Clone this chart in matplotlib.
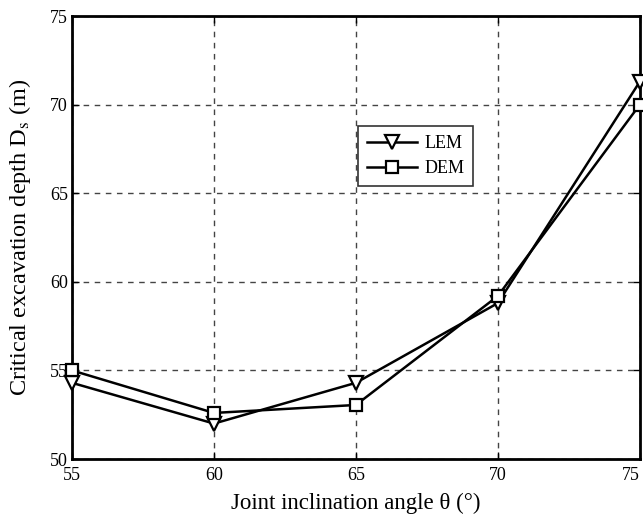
import numpy as np
import matplotlib.pyplot as plt

plt.rcParams['font.family'] = ['Liberation Serif', 'DejaVu Serif']
plt.rcParams['mathtext.fontset'] = 'stix'

# joint inclination angle (deg)
angle = [55, 60, 65, 70, 75]
# critical excavation depth Ds (m)
lem = [54.3, 52.0, 54.3, 58.8, 71.3]
dem = [55.0, 52.6, 53.05, 59.2, 70.0]

fig = plt.figure(figsize=(6.43, 5.21), dpi=100)
ax = fig.add_axes([0.112, 0.119, 0.883, 0.850])

ax.plot(angle, lem, color='black', lw=1.8, marker='v', ms=10,
        mfc='white', mec='black', mew=1.6, label='LEM', zorder=3, clip_on=False)
ax.plot(angle, dem, color='black', lw=1.8, marker='s', ms=9,
        mfc='white', mec='black', mew=1.6, label='DEM', zorder=3, clip_on=False)

ax.set_xlim(55, 75)
ax.set_ylim(50, 75)
ax.set_xticks(np.arange(55, 76, 5))
ax.set_yticks(np.arange(50, 76, 5))
ax.grid(True, color='#444444', ls=(0, (4, 4)), lw=1)
ax.tick_params(direction='in', labelsize=13, length=5, width=1,
               top=True, right=True)
ax.tick_params(axis='x', pad=6)
ax.tick_params(axis='y', pad=3)
ax.get_xticklabels()[-1].set_horizontalalignment('right')
for s in ax.spines.values():
    s.set_linewidth(2)

ax.set_xlabel('Joint inclination angle θ (°)', fontsize=16.5, labelpad=6)
ax.set_ylabel('Critical excavation depth D$_{\\rm s}$ (m)', fontsize=17.5, labelpad=12)

leg = ax.legend(loc='upper left', bbox_to_anchor=(0.503, 0.752), fontsize=13,
                frameon=True, fancybox=False, edgecolor='black',
                handlelength=2.8, borderpad=0.5, labelspacing=0.45,
                handletextpad=0.4, borderaxespad=0)
leg.get_frame().set_linewidth(1.2)

fig.savefig('out.png', dpi=100)
